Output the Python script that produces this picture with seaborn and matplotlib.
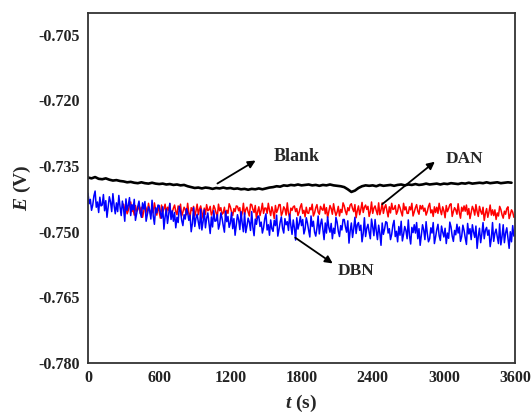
import numpy as np
import pandas as pd
import matplotlib
matplotlib.use('Agg')
import matplotlib.pyplot as plt
import seaborn as sns

sns.set_style('white')
plt.rcParams['font.family'] = ['Liberation Serif', 'DejaVu Serif']
plt.rcParams['mathtext.fontset'] = 'custom'
plt.rcParams['mathtext.it'] = 'Liberation Serif:italic:bold'

# open circuit potential, mV (converted to V when plotted)
t_blank = np.arange(0, 3600, 30)
blank_mv = [
    -737.6, -737.8, -737.5, -737.9, -738.0, -737.8, -738.1, -738.3, -738.2, -738.4,
    -738.5, -738.7, -738.6, -738.8, -738.9, -738.7, -738.9, -739.0, -738.8, -739.0,
    -739.1, -739.0, -739.2, -739.1, -739.3, -739.2, -739.4, -739.3, -739.6, -739.8,
    -740.0, -739.9, -740.1, -739.9, -740.0, -740.2, -740.0, -740.1, -739.9, -740.1,
    -740.0, -740.2, -740.1, -740.3, -740.2, -740.4, -740.2, -740.3, -740.1, -740.3,
    -740.1, -739.9, -739.8, -739.6, -739.7, -739.4, -739.5, -739.3, -739.4, -739.2,
    -739.4, -739.3, -739.2, -739.4, -739.3, -739.5, -739.3, -739.4, -739.2, -739.4,
    -739.5, -739.6, -739.8, -740.3, -740.9, -740.6, -740.0, -739.6, -739.4, -739.5,
    -739.4, -739.6, -739.3, -739.5, -739.4, -739.3, -739.5, -739.3, -739.2, -739.4,
    -739.2, -739.3, -739.1, -739.3, -739.2, -739.0, -739.2, -739.1, -739.0, -739.2,
    -739.0, -739.1, -738.9, -739.0, -739.1, -738.9, -739.0, -738.8, -739.0, -738.9,
    -738.8, -738.9, -738.7, -738.9, -738.8, -738.7, -738.9, -738.8, -738.7, -738.8,
]

t_dan = np.arange(300, 3600, 10)
dan_mv = [
    -743.7, -745.0, -744.3, -745.9, -745.1, -743.9, -743.2, -745.4, -744.7, -746.2, -744.0, -745.3,
    -745.0, -743.6, -745.8, -744.4, -746.7, -745.3, -743.9, -744.6, -745.9, -743.5, -745.1, -746.2,
    -744.5, -745.7, -743.4, -745.0, -746.2, -744.2, -745.3, -746.9, -743.9, -745.5, -744.8, -743.7,
    -745.9, -744.4, -745.1, -743.6, -746.5, -745.6, -744.6, -743.9, -745.4, -746.1, -744.1, -744.9,
    -743.7, -746.4, -745.5, -744.4, -744.9, -746.1, -743.5, -745.7, -746.8, -744.5, -745.2, -744.2,
    -746.4, -745.3, -743.7, -746.1, -744.8, -744.1, -745.5, -746.9, -744.6, -746.0, -743.8, -745.2,
    -745.0, -744.2, -746.2, -745.5, -744.0, -744.7, -745.7, -746.6, -743.7, -745.2, -744.5, -746.0,
    -745.7, -744.4, -746.6, -745.1, -745.8, -743.6, -744.3, -745.5, -746.3, -744.7, -745.4, -744.1,
    -744.2, -745.2, -744.5, -746.8, -745.7, -743.5, -746.1, -744.9, -744.4, -745.5, -746.4, -743.7,
    -743.8, -744.9, -745.6, -744.0, -747.0, -745.4, -744.3, -746.3, -745.1, -743.5, -745.8, -744.6,
    -744.6, -745.8, -743.5, -745.1, -746.3, -744.3, -745.4, -747.0, -744.0, -745.6, -744.9, -743.8,
    -743.8, -746.3, -745.6, -744.3, -744.8, -746.2, -743.4, -745.8, -746.7, -744.6, -745.1, -744.3,
    -744.1, -745.4, -744.7, -746.3, -745.5, -744.3, -743.6, -745.8, -745.1, -746.6, -744.4, -745.7,
    -745.8, -744.5, -745.0, -743.7, -746.4, -745.7, -744.5, -743.8, -745.5, -746.0, -744.2, -744.8,
    -745.1, -743.7, -745.9, -744.5, -746.8, -745.4, -744.0, -744.7, -746.0, -743.6, -745.2, -746.3,
    -745.5, -744.2, -746.4, -744.9, -745.6, -743.4, -744.1, -745.3, -746.1, -744.5, -745.2, -743.9,
    -743.6, -744.7, -745.4, -743.8, -746.8, -745.2, -744.1, -746.1, -744.9, -743.3, -745.6, -744.4,
    -743.9, -744.9, -744.2, -746.5, -745.4, -743.2, -745.8, -744.6, -744.1, -745.2, -746.1, -743.4,
    -746.1, -745.0, -743.4, -745.8, -744.5, -743.8, -745.2, -746.6, -744.3, -745.7, -743.5, -744.9,
    -744.8, -744.0, -746.0, -745.3, -743.8, -744.5, -745.5, -746.4, -743.5, -745.0, -744.3, -745.8,
    -745.8, -744.3, -745.0, -743.5, -746.4, -745.5, -744.5, -743.8, -745.3, -746.0, -744.0, -744.8,
    -744.0, -745.3, -744.6, -746.2, -745.4, -744.2, -743.5, -745.7, -745.0, -746.5, -744.3, -745.6,
    -744.4, -745.8, -743.5, -745.1, -746.1, -744.3, -745.2, -746.8, -744.0, -745.4, -744.7, -743.8,
    -743.6, -746.5, -745.4, -744.5, -745.0, -746.0, -743.6, -745.6, -746.9, -744.4, -745.3, -744.1,
    -745.3, -743.9, -746.1, -744.7, -747.0, -745.6, -744.2, -744.9, -746.2, -743.8, -745.4, -746.5,
    -744.2, -745.3, -746.0, -744.4, -747.4, -745.8, -744.7, -746.7, -745.5, -743.9, -746.2, -745.0,
    -746.3, -745.0, -747.2, -745.7, -746.4, -744.2, -744.9, -746.1, -746.9, -745.3, -746.0, -744.7,
    -744.3, -747.0, -746.1, -745.0, -745.5, -746.7,
]

t_dbn = np.arange(0, 3600, 10)
dbn_mv = [
    -741.2, -743.6, -742.6, -745.1, -743.9, -741.8, -740.7, -744.4, -743.2, -745.6, -742.1, -744.1,
    -743.9, -741.5, -745.2, -742.9, -746.7, -744.3, -742.0, -743.2, -745.4, -741.3, -744.0, -745.9,
    -743.4, -745.4, -741.7, -744.3, -746.3, -743.0, -744.8, -747.6, -742.5, -745.1, -743.9, -742.2,
    -746.3, -743.8, -745.0, -742.6, -747.4, -745.9, -744.2, -743.0, -745.6, -746.7, -743.4, -744.8,
    -743.1, -747.6, -746.1, -744.3, -745.2, -747.1, -742.8, -746.4, -748.3, -744.5, -745.7, -743.9,
    -744.0, -745.7, -746.9, -744.3, -749.4, -746.6, -744.8, -748.1, -746.1, -743.5, -747.2, -745.2,
    -747.6, -745.6, -749.1, -746.7, -747.9, -744.2, -745.3, -747.4, -748.6, -746.1, -747.1, -744.7,
    -745.6, -747.4, -746.2, -750.0, -748.1, -744.5, -748.8, -746.9, -746.0, -747.8, -749.3, -744.8,
    -749.6, -747.7, -745.0, -749.1, -746.9, -745.7, -748.0, -750.4, -746.6, -748.9, -745.2, -747.6,
    -747.5, -746.1, -749.4, -748.3, -745.7, -746.9, -748.6, -750.1, -745.3, -747.7, -746.5, -749.0,
    -748.0, -745.6, -749.3, -747.0, -750.8, -748.4, -746.1, -747.3, -749.5, -745.4, -748.1, -750.0,
    -745.7, -750.2, -748.7, -746.9, -747.8, -749.7, -745.4, -749.0, -750.9, -747.1, -748.3, -746.5,
    -746.4, -748.8, -747.8, -750.3, -749.1, -747.0, -745.9, -749.6, -748.4, -750.8, -747.3, -749.3,
    -749.9, -747.4, -748.6, -746.2, -751.0, -749.5, -747.8, -746.6, -749.2, -750.3, -747.0, -748.4,
    -747.7, -749.7, -746.0, -748.6, -750.6, -747.3, -749.1, -751.9, -746.8, -749.4, -748.2, -746.5,
    -748.6, -747.2, -750.5, -749.4, -746.8, -748.0, -749.7, -751.2, -746.4, -748.8, -747.6, -750.1,
    -751.0, -749.1, -746.4, -750.5, -748.3, -747.1, -749.4, -751.8, -748.0, -750.3, -746.6, -749.0,
    -750.1, -748.1, -751.6, -749.2, -750.4, -746.7, -747.8, -749.9, -751.1, -748.6, -749.6, -747.2,
    -747.2, -748.9, -750.1, -747.5, -752.6, -749.8, -748.0, -751.3, -749.3, -746.7, -750.4, -748.4,
    -747.9, -749.7, -748.5, -752.3, -750.4, -746.8, -751.1, -749.2, -748.3, -750.1, -751.6, -747.1,
    -748.9, -750.9, -747.2, -749.8, -751.8, -748.5, -750.3, -753.1, -748.0, -750.6, -749.4, -747.7,
    -747.9, -750.3, -749.3, -751.8, -750.6, -748.5, -747.4, -751.1, -749.9, -752.3, -748.8, -750.8,
    -747.6, -752.1, -750.6, -748.8, -749.7, -751.6, -747.3, -750.9, -752.8, -749.0, -750.2, -748.4,
    -750.3, -747.9, -751.6, -749.3, -753.1, -750.7, -748.4, -749.6, -751.8, -747.7, -750.4, -752.3,
    -751.6, -749.1, -750.3, -747.9, -752.7, -751.2, -749.5, -748.3, -750.9, -752.0, -748.7, -750.1,
    -751.2, -749.2, -752.7, -750.3, -751.5, -747.8, -748.9, -751.0, -752.2, -749.7, -750.7, -748.3,
    -750.3, -748.9, -752.2, -751.1, -748.5, -749.7, -751.4, -752.9, -748.1, -750.5, -749.3, -751.8,
    -748.4, -750.1, -751.3, -748.7, -753.8, -751.0, -749.2, -752.5, -750.5, -747.9, -751.6, -749.6,
    -749.0, -750.8, -749.6, -753.4, -751.5, -747.9, -752.2, -750.3, -749.4, -751.2, -752.7, -748.2,
    -753.0, -751.1, -748.4, -752.5, -750.3, -749.1, -751.4, -753.8, -750.0, -752.3, -748.6, -751.0,
]

x_ticks = [0, 600, 1200, 1800, 2400, 3000, 3600]
y_ticks = [-0.780, -0.765, -0.750, -0.735, -0.720, -0.705]

fig = plt.figure(figsize=(5.31, 4.16), dpi=100)
ax = fig.add_axes([0.1657, 0.1274, 0.8043, 0.8414])

sns.lineplot(x=t_blank, y=np.array(blank_mv) / 1000, color='black', lw=1.9,
             estimator=None, sort=False, ax=ax)
sns.lineplot(x=t_dan, y=np.array(dan_mv) / 1000, color='#ff0000', lw=1.1,
             estimator=None, sort=False, ax=ax)
sns.lineplot(x=t_dbn, y=np.array(dbn_mv) / 1000, color='#0000ff', lw=1.1,
             estimator=None, sort=False, ax=ax)

ax.set_xlim(0, 3600)
ax.set_ylim(-0.780, -0.700)
ax.set_xticks(x_ticks)
ax.set_yticks(y_ticks)
ax.set_yticklabels([f'{v:.3f}' for v in y_ticks])
ax.tick_params(direction='in', length=5, width=1.2, colors='#222222',
               labelsize=11.5, top=False, right=False)
ax.tick_params(axis='x', pad=5)
ax.tick_params(axis='y', pad=6)
for lab in ax.get_xticklabels() + ax.get_yticklabels():
    lab.set_fontweight('bold')
for sp in ax.spines.values():
    sp.set_linewidth(1.3)
    sp.set_color('#333333')

ax.set_xlabel(r'$\mathit{t}$ (s)', fontsize=14, fontweight='bold', labelpad=5)
ax.set_ylabel(r'$\mathit{E}$ (V)', fontsize=14, fontweight='bold', labelpad=4)

arrow = dict(arrowstyle='-|>', color='black', lw=1.3, mutation_scale=11)
ax.annotate('', xy=(1433, -0.7334), xytext=(1071, -0.7393), arrowprops=arrow)
ax.text(1762, -0.7327, 'Blank', fontsize=13, fontweight='bold',
        ha='center', va='center')
ax.annotate('', xy=(2942, -0.7336), xytext=(2462, -0.7441), arrowprops=arrow)
ax.text(3178, -0.7334, 'DAN', fontsize=12.5, fontweight='bold',
        ha='center', va='center')
ax.annotate('', xy=(2082, -0.7576), xytext=(1728, -0.7510), arrowprops=arrow)
ax.text(2259, -0.7590, 'DBN', fontsize=12.5, fontweight='bold',
        ha='center', va='center')

fig.savefig('out.png', dpi=100)
